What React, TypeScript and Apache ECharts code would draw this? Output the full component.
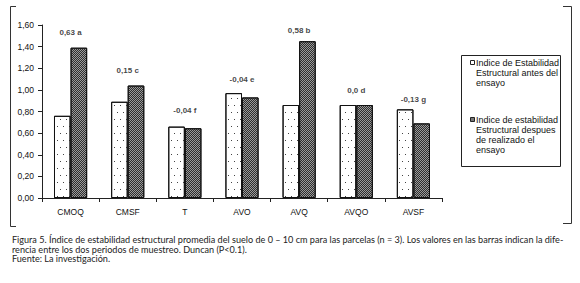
import React, { useEffect, useRef } from "react";
import * as echarts from "echarts";

const categories = ["CMOQ", "CMSF", "T", "AVO", "AVQ", "AVQO", "AVSF"];
const beforeValues = [0.76, 0.89, 0.66, 0.97, 0.86, 0.86, 0.82];
const afterValues = [1.39, 1.04, 0.645, 0.93, 1.45, 0.86, 0.69];
const diffLabels = ["0,63 a", "0,15 c", "-0,04 f", "-0,04 e", "0,58 b", "0,0 d", "-0,13 g"];
const diffLabelY = [1.53, 1.18, 0.81, 1.1, 1.55, 0.99, 0.91];
const yTicks = { min: 0, max: 1.6, interval: 0.2 };
const beforeName = "Indice de Estabilidad Estructural antes del ensayo";
const afterName = "Indice de estabilidad Estructural despues de realizado el ensayo";
const legendLines1 = ["Indice de Estabilidad", "Estructural antes del", "ensayo"];
const legendLines2 = ["Indice de estabilidad", "Estructural despues", "de realizado el", "ensayo"];
const captionLines = [
  "Figura 5. Índice de estabilidad estructural promedia del suelo de 0 – 10 cm para las parcelas (n = 3). Los valores en las barras indican la dife-",
  "rencia entre los dos periodos de muestreo. Duncan (P<0.1).",
  "Fuente: La investigación.",
];

const AXIS_FONT = "'Liberation Sans', Arial, sans-serif";
const CAPTION_FONT = "Lato, 'Open Sans', sans-serif";

export default function App() {
  const ref = useRef<HTMLDivElement>(null);
  useEffect(() => {
    if (!ref.current) return;
    const chart = echarts.init(ref.current, undefined, { renderer: "svg" });
    const frameColor = "#333";
    const legendText = (lines: string[], y0: number) =>
      lines.map((t, i) => ({
        type: "text",
        left: 476,
        top: y0 + i * 10,
        style: { text: t, fontSize: 9, fontFamily: AXIS_FONT, fill: "#111" },
      }));
    chart.setOption({
      animation: false,
      backgroundColor: "#fff",
      grid: { left: 42, right: 138, top: 25, bottom: 85 },
      xAxis: {
        type: "category",
        data: categories,
        axisLine: { lineStyle: { color: "#222", width: 1 } },
        axisTick: { show: true, length: 4, lineStyle: { color: "#222" } },
        axisLabel: { fontSize: 8.5, fontFamily: AXIS_FONT, color: "#111", margin: 9 },
      },
      yAxis: {
        type: "value",
        min: yTicks.min,
        max: yTicks.max,
        interval: yTicks.interval,
        splitLine: { show: false },
        axisLine: { show: true, lineStyle: { color: "#222", width: 1 } },
        axisTick: { show: true, length: 4, lineStyle: { color: "#222" } },
        axisLabel: {
          fontSize: 8.5,
          fontFamily: AXIS_FONT,
          color: "#111",
          margin: 8,
          formatter: (v: number) => v.toFixed(2).replace(".", ","),
        },
      },
      series: [
        {
          name: beforeName,
          type: "bar",
          data: beforeValues,
          barGap: "0%",
          barCategoryGap: "42%",
          itemStyle: {
            color: "#fff",
            borderColor: "#111",
            borderWidth: 1,
            decal: {
              symbol: "rect",
              symbolSize: 1,
              color: "#444",
              dashArrayX: [
                [1, 5],
                [0, 3, 1, 2],
              ],
              dashArrayY: [1, 6],
            },
          },
        },
        {
          name: afterName,
          type: "bar",
          data: afterValues,
          barGap: "0%",
          barCategoryGap: "42%",
          itemStyle: {
            color: "#9a9a9a",
            borderColor: "#111",
            borderWidth: 1,
            decal: {
              symbol: "rect",
              symbolSize: 1,
              color: "#2e2e2e",
              dashArrayX: [
                [1, 1],
                [0, 1, 1, 0],
              ],
              dashArrayY: [1, 0],
            },
          },
        },
        {
          name: "diferencia",
          type: "scatter",
          symbolSize: 0,
          data: diffLabelY.map((y, i) => ({ value: [categories[i], y], label: { formatter: diffLabels[i] } })),
          label: {
            show: true,
            position: "inside",
            fontSize: 8,
            fontWeight: "bold",
            fontFamily: AXIS_FONT,
            color: "#111",
          },
          silent: true,
        },
      ],
      graphic: [
        { type: "line", shape: { x1: 10.5, y1: 6.5, x2: 10.5, y2: 226.5 }, style: { stroke: frameColor, lineWidth: 1 } },
        { type: "line", shape: { x1: 10.5, y1: 6.5, x2: 16, y2: 6.5 }, style: { stroke: frameColor, lineWidth: 1 } },
        { type: "line", shape: { x1: 10.5, y1: 226.5, x2: 16, y2: 226.5 }, style: { stroke: frameColor, lineWidth: 1 } },
        { type: "line", shape: { x1: 571.5, y1: 6.5, x2: 571.5, y2: 223.5 }, style: { stroke: frameColor, lineWidth: 1 } },
        { type: "line", shape: { x1: 563, y1: 6.5, x2: 571.5, y2: 6.5 }, style: { stroke: frameColor, lineWidth: 1 } },
        { type: "line", shape: { x1: 563, y1: 223.5, x2: 571.5, y2: 223.5 }, style: { stroke: frameColor, lineWidth: 1 } },
        {
          type: "rect",
          shape: { x: 461.5, y: 55.5, width: 99, height: 111 },
          style: { fill: "#fff", stroke: "#222", lineWidth: 1 },
        },
        {
          type: "rect",
          shape: { x: 470.5, y: 60.5, width: 4, height: 4 },
          style: { fill: "#fff", stroke: "#222", lineWidth: 1 },
        },
        {
          type: "rect",
          shape: { x: 470.5, y: 117.5, width: 4, height: 4 },
          style: { fill: "#777", stroke: "#222", lineWidth: 1 },
        },
        ...legendText(legendLines1, 58),
        ...legendText(legendLines2, 115),
        ...captionLines.map((t, i) => ({
          type: "text",
          left: 12,
          top: 235 + i * 9.5,
          style: { text: t, fontSize: 9.1, fontFamily: CAPTION_FONT, fill: "#222" },
        })),
      ],
    });
    return () => chart.dispose();
  }, []);
  return <div ref={ref} style={{ position: "fixed", left: 0, top: 0, width: 580, height: 283 }} />;
}
